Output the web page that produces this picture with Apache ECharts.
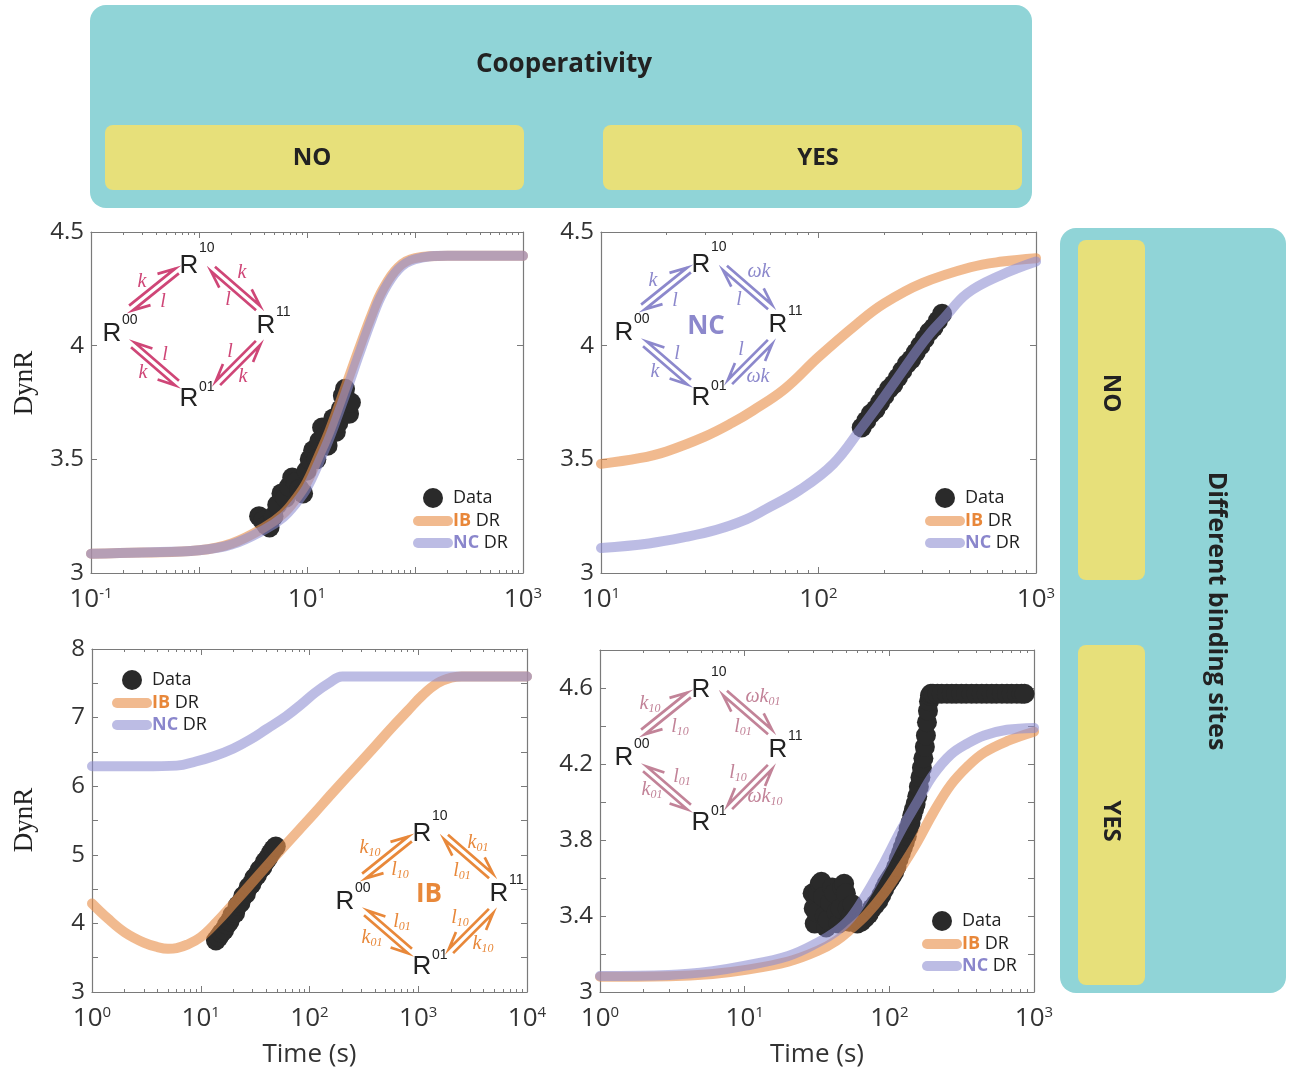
<!DOCTYPE html>
<html><head><meta charset="utf-8">
<script src="https://cdn.jsdelivr.net/npm/echarts@6/dist/echarts.min.js"></script>
<style>html,body{margin:0;padding:0;background:#fff}#c{width:1292px;height:1074px}</style>
</head><body><div id="c"></div>
<script>
// ---------- DATA ----------
// Panel 1 (No cooperativity, no different binding sites)
const P1_FIT_T = [0.1, 0.3, 1, 2, 4, 6, 8, 10, 13, 16, 20, 25, 30, 40, 50, 70, 100, 200, 1000];
const P1_IB    = [3.085, 3.09, 3.10, 3.13, 3.20, 3.26, 3.33, 3.40, 3.52, 3.62, 3.745, 3.875, 3.98, 4.14, 4.245, 4.345, 4.385, 4.395, 4.395];
const P1_NC    = [3.085, 3.09, 3.10, 3.125, 3.19, 3.245, 3.31, 3.375, 3.49, 3.59, 3.715, 3.845, 3.955, 4.12, 4.23, 4.335, 4.38, 4.395, 4.395];
const P1_DATA_T = [3.6, 3.9, 4.2, 4.5, 4.9, 5.3, 5.8, 6.3, 6.8, 7.3, 7.9, 8.5, 9.2, 9.9, 10.6, 11.4, 12.2, 13.0, 13.8, 14.6, 15.5, 16.5, 17.5, 18.5, 19.5, 20.5, 21.5, 22.5, 23.5, 24.5, 25.5];
const P1_DATA   = [3.25, 3.23, 3.21, 3.20, 3.25, 3.30, 3.35, 3.33, 3.38, 3.42, 3.40, 3.37, 3.35, 3.45, 3.50, 3.54, 3.50, 3.58, 3.64, 3.60, 3.56, 3.62, 3.68, 3.62, 3.66, 3.72, 3.78, 3.81, 3.74, 3.70, 3.75];

// Panel 2 (Cooperativity, no different binding sites)
const P2_IB_T = [10, 15, 20, 30, 40, 50, 70, 100, 150, 200, 300, 500, 700, 1000];
const P2_IB   = [3.48, 3.505, 3.535, 3.60, 3.66, 3.715, 3.81, 3.95, 4.095, 4.185, 4.275, 4.345, 4.37, 4.385];
const P2_NC_T = [10, 16.6, 25, 34, 45, 57, 82, 117, 158, 199, 240, 284, 330, 377, 483, 689, 1000];
const P2_NC   = [3.11, 3.13, 3.16, 3.19, 3.23, 3.28, 3.365, 3.48, 3.64, 3.77, 3.88, 3.98, 4.06, 4.12, 4.23, 4.31, 4.37];
const P2_DATA_T = [158, 166, 174, 183, 192, 201, 211, 221, 232, 243, 255, 267, 280, 294, 308, 323, 338, 354, 370];
const P2_DATA   = [3.64, 3.67, 3.70, 3.72, 3.75, 3.78, 3.81, 3.83, 3.86, 3.89, 3.92, 3.94, 3.97, 4.00, 4.03, 4.06, 4.08, 4.11, 4.14];

// Panel 3 (No cooperativity, different binding sites)
const P3_IB_T = [1, 1.4, 2, 3, 4, 5, 6, 7.5, 10, 14, 20, 28, 40, 56, 80, 110, 150, 200, 280, 400, 560, 800, 1100, 1500, 2000, 2500, 5000, 10000];
const P3_IB   = [4.29, 4.07, 3.87, 3.72, 3.655, 3.63, 3.64, 3.69, 3.80, 4.02, 4.29, 4.55, 4.83, 5.09, 5.36, 5.60, 5.84, 6.06, 6.31, 6.58, 6.84, 7.10, 7.33, 7.50, 7.58, 7.60, 7.60, 7.60];
const P3_NC_T = [1, 3, 6, 9, 13.4, 20, 28.5, 40, 61, 85, 112, 150, 200, 300, 1000, 3000, 10000];
const P3_NC   = [6.29, 6.29, 6.30, 6.36, 6.44, 6.55, 6.68, 6.83, 7.02, 7.20, 7.36, 7.50, 7.60, 7.60, 7.60, 7.60, 7.60];
const P3_DATA_T = [13.8, 14.6, 15.5, 16.4, 17.4, 18.4, 19.5, 20.7, 21.9, 23.2, 24.6, 26.0, 27.6, 29.2, 31.0, 32.8, 34.8, 36.9, 39.1, 41.4, 43.9, 46.5, 49.0];
const P3_DATA   = [3.75, 3.80, 3.86, 3.90, 3.98, 4.03, 4.12, 4.15, 4.26, 4.30, 4.40, 4.43, 4.53, 4.57, 4.66, 4.70, 4.78, 4.82, 4.90, 4.95, 5.02, 5.08, 5.12];

// Panel 4 (Cooperativity, different binding sites)
const P4_FIT_T = [1, 3, 6, 9.9, 20, 31.9, 43, 54, 70, 92, 120, 156, 200, 266, 350, 452, 650, 1000];
const P4_IB    = [3.08, 3.083, 3.095, 3.115, 3.16, 3.216, 3.27, 3.33, 3.41, 3.52, 3.65, 3.79, 3.94, 4.09, 4.19, 4.26, 4.32, 4.37];
const P4_NC    = [3.084, 3.09, 3.11, 3.137, 3.19, 3.26, 3.32, 3.39, 3.52, 3.68, 3.85, 4.00, 4.14, 4.25, 4.31, 4.35, 4.38, 4.39];
const P4_DATA_T = [29.5, 30, 30.5, 31.3, 32.1, 33, 33.9, 34.8, 35.7, 36.6, 37.5, 38.9, 40.3, 41.7, 43.1, 44.5, 45.9, 47.3, 48.7, 50.1, 51.5, 52.9, 54.3, 55.7,
  60, 64, 68, 72, 76, 80, 84, 88, 92, 96, 100, 104, 108, 112, 116, 120, 124, 128, 132, 136, 140, 144, 148, 152, 156, 160, 164, 168, 172, 176, 179, 182, 185, 188, 191, 194,
  200, 215, 230, 250, 270, 290, 315, 340, 370, 400, 435, 470, 510, 550, 600, 650, 700, 760, 820, 860];
const P4_DATA   = [3.52, 3.44, 3.36, 3.42, 3.52, 3.57, 3.58, 3.50, 3.40, 3.34, 3.38, 3.47, 3.55, 3.52, 3.42, 3.36, 3.44, 3.55, 3.57, 3.52, 3.44, 3.37, 3.40, 3.46,
  3.36, 3.37, 3.39, 3.41, 3.44, 3.46, 3.48, 3.51, 3.54, 3.57, 3.59, 3.61, 3.63, 3.66, 3.70, 3.73, 3.76, 3.79, 3.82, 3.86, 3.89, 3.93, 3.96, 3.99, 4.03, 4.08, 4.13, 4.18, 4.23, 4.29, 4.35, 4.42, 4.48, 4.53, 4.56, 4.57,
  4.57, 4.57, 4.57, 4.57, 4.57, 4.57, 4.57, 4.57, 4.57, 4.57, 4.57, 4.57, 4.57, 4.57, 4.57, 4.57, 4.57, 4.57, 4.57, 4.57];

// Axes ranges / ticks
const X_RANGES = [[0.1, 1000], [10, 1000], [1, 10000], [1, 1000]];
const Y_RANGES = [[3, 4.5], [3, 4.5], [3, 8], [3, 4.8]];
const Y_STEPS  = [0.5, 0.5, 0.5, 0.2];
const LEGEND_NAMES = ['Data', 'IB DR', 'NC DR'];

// ---------- LAYOUT / STYLE ----------
const SANS = '"Open Sans", "Noto Sans", sans-serif';
const SERIF = '"Liberation Serif", "DejaVu Serif", serif';
const ARIAL = '"Liberation Sans", Arial, sans-serif';
const IB_COLOR = '#e8904a', NC_COLOR = '#8c8cd0', DATA_COLOR = '#2a2a2a';
const AX_COLOR = '#7a7a7a';
const GRIDS = [
  {left: 91, top: 232, width: 432, height: 341},
  {left: 601, top: 232, width: 435, height: 341},
  {left: 92, top: 649, width: 435, height: 343},
  {left: 600, top: 650, width: 434, height: 342}
];
const pts = (xs, ys) => xs.map((x, i) => [x, ys[i]]);

const xAxes = [], yAxes = [];
GRIDS.forEach((g, i) => {
  const [xmin, xmax] = X_RANGES[i];
  const [ymin, ymax] = Y_RANGES[i];
  const common = {gridIndex: i, axisLine: {show: true, lineStyle: {color: AX_COLOR, width: 1.2}},
    axisTick: {show: true, inside: true, length: 6, lineStyle: {color: AX_COLOR}}, splitLine: {show: false}};
  const minor = {show: true, splitNumber: 9, length: 3, lineStyle: {color: AX_COLOR}};
  xAxes.push(Object.assign({}, common, {
    type: 'log', logBase: 10, min: xmin, max: xmax, position: 'bottom',
    minorTick: minor, minorSplitLine: {show: false},
    name: i >= 2 ? 'Time (s)' : '', nameLocation: 'middle', nameGap: 50,
    nameTextStyle: {fontSize: 26, fontFamily: SANS, color: '#333'},
    axisLabel: {
      show: true, margin: 13, color: '#333',
      formatter: v => {
        const e = Math.round(Math.log10(v));
        if (i === 0 && Math.abs(e) % 2 === 0) return '';
        return '{b|10}{s|' + e + '}';
      },
      rich: {b: {fontSize: 26, fontFamily: SANS, color: '#333', lineHeight: 28},
             s: {fontSize: 15, fontFamily: SANS, color: '#333', verticalAlign: 'top', lineHeight: 14}}
    }
  }));
  xAxes.push(Object.assign({}, common, {type: 'log', logBase: 10, min: xmin, max: xmax, position: 'top',
    minorTick: minor, minorSplitLine: {show: false}, axisLabel: {show: false}}));
  yAxes.push(Object.assign({}, common, {
    type: 'value', min: ymin, max: ymax, interval: Y_STEPS[i], position: 'left',
    axisLabel: {
      show: true, margin: 7, fontSize: 24, fontFamily: SANS, color: '#333', showMaxLabel: true, showMinLabel: true,
      formatter: v => {
        const r = Math.round(v * 10) / 10;
        if (i === 2 && Math.abs(r - Math.round(r)) > 1e-6) return '';
        if (i === 3) { const k = Math.round((r - 3) / 0.2); if (k % 2 !== 0 || r > 4.7) return ''; }
        return String(r);
      }
    }
  }));
  yAxes.push(Object.assign({}, common, {type: 'value', min: ymin, max: ymax, interval: Y_STEPS[i], position: 'right', axisLabel: {show: false}}));
});

const PANEL_DATA = [
  {data: pts(P1_DATA_T, P1_DATA), ib: pts(P1_FIT_T, P1_IB), nc: pts(P1_FIT_T, P1_NC)},
  {data: pts(P2_DATA_T, P2_DATA), ib: pts(P2_IB_T, P2_IB), nc: pts(P2_NC_T, P2_NC)},
  {data: pts(P3_DATA_T, P3_DATA), ib: pts(P3_IB_T, P3_IB), nc: pts(P3_NC_T, P3_NC)},
  {data: pts(P4_DATA_T, P4_DATA), ib: pts(P4_FIT_T, P4_IB), nc: pts(P4_FIT_T, P4_NC)}
];
const series = [];
PANEL_DATA.forEach((p, i) => {
  series.push({type: 'scatter', name: LEGEND_NAMES[0], xAxisIndex: 2 * i, yAxisIndex: 2 * i, data: p.data,
    symbol: 'circle', symbolSize: 20, itemStyle: {color: DATA_COLOR, opacity: 1}, z: 2, silent: true});
  series.push({type: 'line', name: LEGEND_NAMES[1], xAxisIndex: 2 * i, yAxisIndex: 2 * i, data: p.ib, smooth: 0.4,
    symbol: 'none', showSymbol: false, lineStyle: {color: IB_COLOR, width: 10, opacity: 0.62, cap: 'round', join: 'round'}, itemStyle: {color: IB_COLOR, opacity: 0.62}, z: 3, silent: true});
  series.push({type: 'line', name: LEGEND_NAMES[2], xAxisIndex: 2 * i, yAxisIndex: 2 * i, data: p.nc, smooth: 0.4,
    symbol: 'none', showSymbol: false, lineStyle: {color: NC_COLOR, width: 10, opacity: 0.58, cap: 'round', join: 'round'}, itemStyle: {color: NC_COLOR, opacity: 0.58}, z: 4, silent: true});
});

const LEGEND_POS = [[413, 488], [925, 488], [112, 670], [922, 911]];
const legends = LEGEND_POS.map(([l, t]) => ({
  left: l, top: t, padding: 0, orient: 'vertical', itemWidth: 30, itemHeight: 20, itemGap: 4, selectedMode: false,
  data: [{name: 'Data', icon: 'circle'}, {name: 'IB DR', itemStyle: {opacity: 0}}, {name: 'NC DR', itemStyle: {opacity: 0}}],
  lineStyle: {width: 10, cap: 'round'},
  formatter: n => n === 'IB DR' ? '{ib|IB} DR' : (n === 'NC DR' ? '{nc|NC} DR' : n),
  textStyle: {fontSize: 18, fontFamily: SANS, color: '#222',
    rich: {ib: {fontSize: 18, fontFamily: SANS, fontWeight: 'bold', color: '#e8873a'},
           nc: {fontSize: 18, fontFamily: SANS, fontWeight: 'bold', color: '#8a86cc'}}}
}));

// ---------- GRAPHICS (header boxes, labels, reaction schemes) ----------
const TEAL = '#90d4d7', YELLOW = '#e7e07a';
const graphics = [
  {type: 'rect', shape: {x: 90, y: 5, width: 942, height: 203, r: 16}, style: {fill: TEAL}, z: 0},
  {type: 'rect', shape: {x: 105, y: 125, width: 419, height: 65, r: 8}, style: {fill: YELLOW}, z: 1},
  {type: 'rect', shape: {x: 603, y: 125, width: 419, height: 65, r: 8}, style: {fill: YELLOW}, z: 1},
  {type: 'rect', shape: {x: 1060, y: 228, width: 226, height: 765, r: 16}, style: {fill: TEAL}, z: 0},
  {type: 'rect', shape: {x: 1078, y: 240, width: 67, height: 340, r: 8}, style: {fill: YELLOW}, z: 1},
  {type: 'rect', shape: {x: 1078, y: 645, width: 67, height: 340, r: 8}, style: {fill: YELLOW}, z: 1}
];
function txt(t, x, y, o) {
  return Object.assign({type: 'text', x: x, y: y, z: 5,
    style: Object.assign({text: t, fill: '#222', fontSize: 24, fontFamily: SANS, fontWeight: 'bold', align: 'center', verticalAlign: 'middle'}, o && o.style)},
    o && o.rotation !== undefined ? {rotation: o.rotation} : {});
}
graphics.push(txt('Cooperativity', 564, 65, {style: {fontSize: 26}}));
graphics.push(txt('NO', 312, 158));
graphics.push(txt('YES', 818, 158));
graphics.push(txt('NO', 1111, 393, {rotation: -Math.PI / 2}));
graphics.push(txt('YES', 1111, 821, {rotation: -Math.PI / 2}));
graphics.push(txt('Different binding sites', 1216, 611, {rotation: -Math.PI / 2, style: {fontSize: 25}}));
graphics.push(txt('DynR', 25, 383, {rotation: Math.PI / 2, style: {fontFamily: SERIF, fontWeight: 'normal', fontSize: 27}}));
graphics.push(txt('DynR', 25, 820, {rotation: Math.PI / 2, style: {fontFamily: SERIF, fontWeight: 'normal', fontSize: 27}}));

// Reaction scheme geometry (panel-1 coordinates, shifted per panel)
const NODES = [['10', 189, 266, -18], ['00', 112, 334, -14], ['11', 266, 326, -14], ['01', 189, 399, -12]];
const PAIRS = [[[131, 308], [177, 271]], [[213, 269], [258, 308]], [[133, 345], [177, 383]], [[218, 383], [258, 343]]];
const CEN = [189, 334];
const SCHEMES = [
  {dx: 0, dy: 0, color: '#cf4677', labels: [['k', '', 142, 282], ['l', '', 163, 302], ['k', '', 242, 273], ['l', '', 228, 300], ['l', '', 165, 355], ['k', '', 143, 373], ['l', '', 230, 352], ['k', '', 243, 377]]},
  {dx: 512, dy: -1, color: '#8c88cc', center: ['NC', 706, 327], labels: [['k', '', 141, 282], ['l', '', 163, 302], ['ωk', '', 247, 273], ['l', '', 227, 301], ['l', '', 165, 355], ['k', '', 143, 373], ['l', '', 229, 351], ['ωk', '', 246, 378]]},
  {dx: 233, dy: 568, color: '#e8883a', center: ['IB', 429, 895], labels: [['k', '10', 137, 280], ['l', '10', 167, 302], ['k', '01', 245, 275], ['l', '01', 229, 303], ['l', '01', 169, 354], ['k', '01', 139, 370], ['l', '10', 227, 350], ['k', '10', 250, 376]]},
  {dx: 512, dy: 424, color: '#c28398', labels: [['k', '10', 138, 280], ['l', '10', 168, 303], ['ωk', '01', 251, 273], ['l', '01', 231, 303], ['l', '01', 170, 353], ['k', '01', 140, 366], ['l', '10', 226, 349], ['ωk', '10', 253, 373]]}
];
function harpoons(P, Q, color, dx, dy) {
  const L = Math.hypot(Q[0] - P[0], Q[1] - P[1]);
  const u = [(Q[0] - P[0]) / L, (Q[1] - P[1]) / L];
  let n = [-u[1], u[0]];
  const mid = [(P[0] + Q[0]) / 2, (P[1] + Q[1]) / 2];
  if ((mid[0] - CEN[0]) * n[0] + (mid[1] - CEN[1]) * n[1] < 0) n = [-n[0], -n[1]];
  const off = 3, bl = 17, bw = 7;
  const sh = p => [p[0] + dx, p[1] + dy];
  const a0 = [P[0] + off * n[0], P[1] + off * n[1]], a1 = [Q[0] + off * n[0], Q[1] + off * n[1]];
  const ab = [a1[0] - bl * u[0] + bw * n[0], a1[1] - bl * u[1] + bw * n[1]];
  const b0 = [Q[0] - off * n[0], Q[1] - off * n[1]], b1 = [P[0] - off * n[0], P[1] - off * n[1]];
  const bb = [b1[0] + bl * u[0] - bw * n[0], b1[1] + bl * u[1] - bw * n[1]];
  const st = {stroke: color, lineWidth: 2.7, fill: null, lineJoin: 'miter', lineCap: 'butt'};
  return [
    {type: 'polyline', z: 6, shape: {points: [a0, a1, ab].map(sh)}, style: st},
    {type: 'polyline', z: 6, shape: {points: [b0, b1, bb].map(sh)}, style: st}
  ];
}
SCHEMES.forEach(s => {
  NODES.forEach(([sup, x, y, sy]) => {
    graphics.push({type: 'text', z: 6, x: x + s.dx, y: y + s.dy,
      style: {text: 'R', fill: '#222', fontSize: 26, fontFamily: ARIAL, align: 'center', verticalAlign: 'middle'}});
    graphics.push({type: 'text', z: 6, x: x + s.dx + 10, y: y + s.dy + sy,
      style: {text: sup, fill: '#222', fontSize: 14, fontFamily: ARIAL, align: 'left', verticalAlign: 'middle'}});
  });
  PAIRS.forEach(([P, Q]) => harpoons(P, Q, s.color, s.dx, s.dy).forEach(g => graphics.push(g)));
  s.labels.forEach(([m, sub, x, y]) => {
    graphics.push({type: 'text', z: 6, x: x + s.dx, y: y + s.dy,
      style: {text: sub ? '{m|' + m + '}{s|' + sub + '}' : '{m|' + m + '}', align: 'center', verticalAlign: 'middle',
        rich: {m: {fontSize: 20, fontFamily: SERIF, fontStyle: 'italic', fill: s.color, color: s.color, lineHeight: 22},
               s: {fontSize: 12, fontFamily: SERIF, fontStyle: 'italic', fill: s.color, color: s.color, verticalAlign: 'bottom', lineHeight: 12}}}});
  });
  if (s.center) {
    graphics.push({type: 'text', z: 6, x: s.center[1], y: s.center[2],
      style: {text: s.center[0], fill: s.color, fontSize: 26, fontWeight: 'bold', fontFamily: SANS, align: 'center', verticalAlign: 'middle'}});
  }
});

const chart = echarts.init(document.getElementById('c'), null, {renderer: 'canvas'});
chart.setOption({
  backgroundColor: '#ffffff',
  animation: false,
  grid: GRIDS.map(g => Object.assign({containLabel: false}, g)),
  xAxis: xAxes,
  yAxis: yAxes,
  legend: legends,
  series: series,
  graphic: {elements: graphics}
});
</script></body></html>
